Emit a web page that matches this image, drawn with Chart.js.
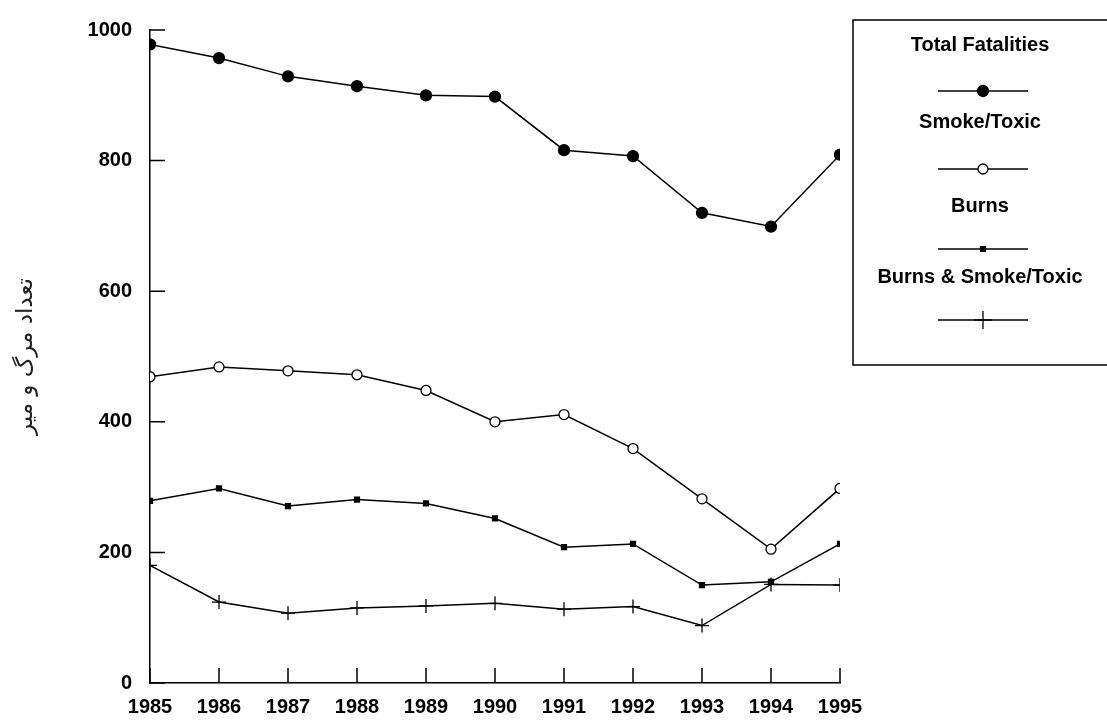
<!DOCTYPE html>
<html lang="fa">
<head>
  <meta charset="UTF-8" />
  <title>Fire fatalities 1985-1995</title>
  <script src="https://cdn.jsdelivr.net/npm/chart.js"></script>
  <style>
    html, body { margin:0; padding:0; background:#fff; }
    canvas { display:block; }
  </style>
</head>
<body>
<canvas id="chart" width="1107" height="720"></canvas>

<script>
// ---- data ----
const years = ['1985','1986','1987','1988','1989','1990','1991','1992','1993','1994','1995'];
const totalFatalities = [978, 957, 929, 914, 900, 898, 816, 807, 720, 699, 809];
const smokeToxic      = [469, 484, 478, 472, 448, 400, 411, 359, 282, 205, 298];
const burns           = [279, 298, 271, 281, 275, 252, 208, 213, 150, 155, 213];
const burnsSmokeToxic = [180, 124, 107, 115, 118, 122, 113, 117,  88, 151, 150];
const yTickValues = [0, 200, 400, 600, 800, 1000];
const seriesLabels = ['Total Fatalities', 'Smoke/Toxic', 'Burns', 'Burns & Smoke/Toxic'];
const yAxisTitle = 'تعداد مرگ و میر';

const tickFont = { family:"'Liberation Sans', Arial, sans-serif", size:20, weight:'bold' };

// marker look per series
const markers = [
  { pointStyle:'circle', radius:5.5, bg:'#000' },
  { pointStyle:'circle', radius:5,   bg:'#fff' },
  { pointStyle:'rect',   radius:3.5, bg:'#000' },
  { pointStyle:'cross',  radius:7,   bg:'#000' }
];
const seriesData = [totalFatalities, smokeToxic, burns, burnsSmokeToxic];

const datasets = seriesData.map((d, i) => ({
  label: seriesLabels[i],
  data: d,
  clip: 0,
  borderColor: '#000',
  borderWidth: 1.5,
  backgroundColor: markers[i].bg,
  pointStyle: markers[i].pointStyle,
  pointRadius: markers[i].radius,
  pointBorderColor: '#000',
  pointBackgroundColor: markers[i].bg,
  pointBorderWidth: 1.3,
  tension: 0,
  fill: false
}));

// short tick marks pointing into the plot
const innerTicks = {
  id: 'innerTicks',
  afterDraw(chart) {
    const { ctx, chartArea, scales } = chart;
    ctx.save();
    ctx.strokeStyle = '#000';
    ctx.lineWidth = 1.5;
    ctx.beginPath();
    yTickValues.forEach(v => {
      const y = scales.y.getPixelForValue(v);
      ctx.moveTo(chartArea.left, y);
      ctx.lineTo(chartArea.left + 15, y);
    });
    years.forEach((_, i) => {
      const x = scales.x.getPixelForValue(i);
      ctx.moveTo(x, chartArea.bottom);
      ctx.lineTo(x, chartArea.bottom - 15);
    });
    ctx.stroke();
    ctx.restore();
  }
};

// boxed legend: label on top, sample line under it
const legendTextY = [45, 122, 206, 277];
const legendLineY = [91, 169, 249, 320];
const boxLegend = {
  id: 'boxLegend',
  afterDraw(chart) {
    const ctx = chart.ctx;
    const boxX = 853, boxY = 20, boxW = 270, boxH = 345;
    const cx = 983;
    ctx.save();
    ctx.strokeStyle = '#000';
    ctx.lineWidth = 1.5;
    ctx.strokeRect(boxX, boxY, boxW, boxH);
    ctx.font = "bold 20px 'Liberation Sans', Arial, sans-serif";
    ctx.textAlign = 'center';
    ctx.textBaseline = 'middle';
    chart.data.datasets.forEach((ds, i) => {
      const ty = legendTextY[i];
      const ly = legendLineY[i];
      ctx.fillStyle = '#000';
      ctx.fillText(ds.label, cx - 3, ty);
      ctx.beginPath();
      ctx.lineWidth = 1.3;
      ctx.moveTo(cx - 45, ly);
      ctx.lineTo(cx + 45, ly);
      ctx.stroke();
      ctx.fillStyle = markers[i].bg;
      ctx.strokeStyle = '#000';
      Chart.helpers.drawPoint(ctx, {
        pointStyle: markers[i].pointStyle,
        radius: markers[i].pointStyle === 'cross' ? 9 : markers[i].radius,
        rotation: 0,
        borderWidth: 1.3
      }, cx, ly);
    });
    ctx.restore();
  }
};

new Chart(document.getElementById('chart'), {
  type: 'line',
  data: { labels: years, datasets },
  plugins: [innerTicks, boxLegend],
  options: {
    responsive: false,
    animation: false,
    layout: { padding: { top: 22, right: 267, bottom: 0, left: 0 } },
    scales: {
      x: {
        offset: false,
        grid: { drawOnChartArea: false, drawTicks: false },
        border: { color: '#000', width: 1.5 },
        ticks: { color: '#000', font: tickFont, padding: 12, maxRotation: 0, autoSkip: false },
        afterFit: s => { s.height = 37; }
      },
      y: {
        min: 0,
        max: 1000,
        afterBuildTicks: s => { s.ticks = yTickValues.map(v => ({ value: v })); },
        grid: { drawOnChartArea: false, drawTicks: false },
        border: { color: '#000', width: 1.5 },
        ticks: { color: '#000', font: tickFont, padding: 18, callback: v => String(v) },
        title: {
          display: true,
          text: yAxisTitle,
          color: '#222',
          font: { family: "'DejaVu Sans', sans-serif", size: 23 },
          padding: { top: 12, bottom: 0 }
        },
        afterFit: s => { s.width = 150; }
      }
    },
    plugins: {
      legend: { display: false },
      tooltip: { enabled: false }
    }
  }
});
</script>
</body>
</html>
